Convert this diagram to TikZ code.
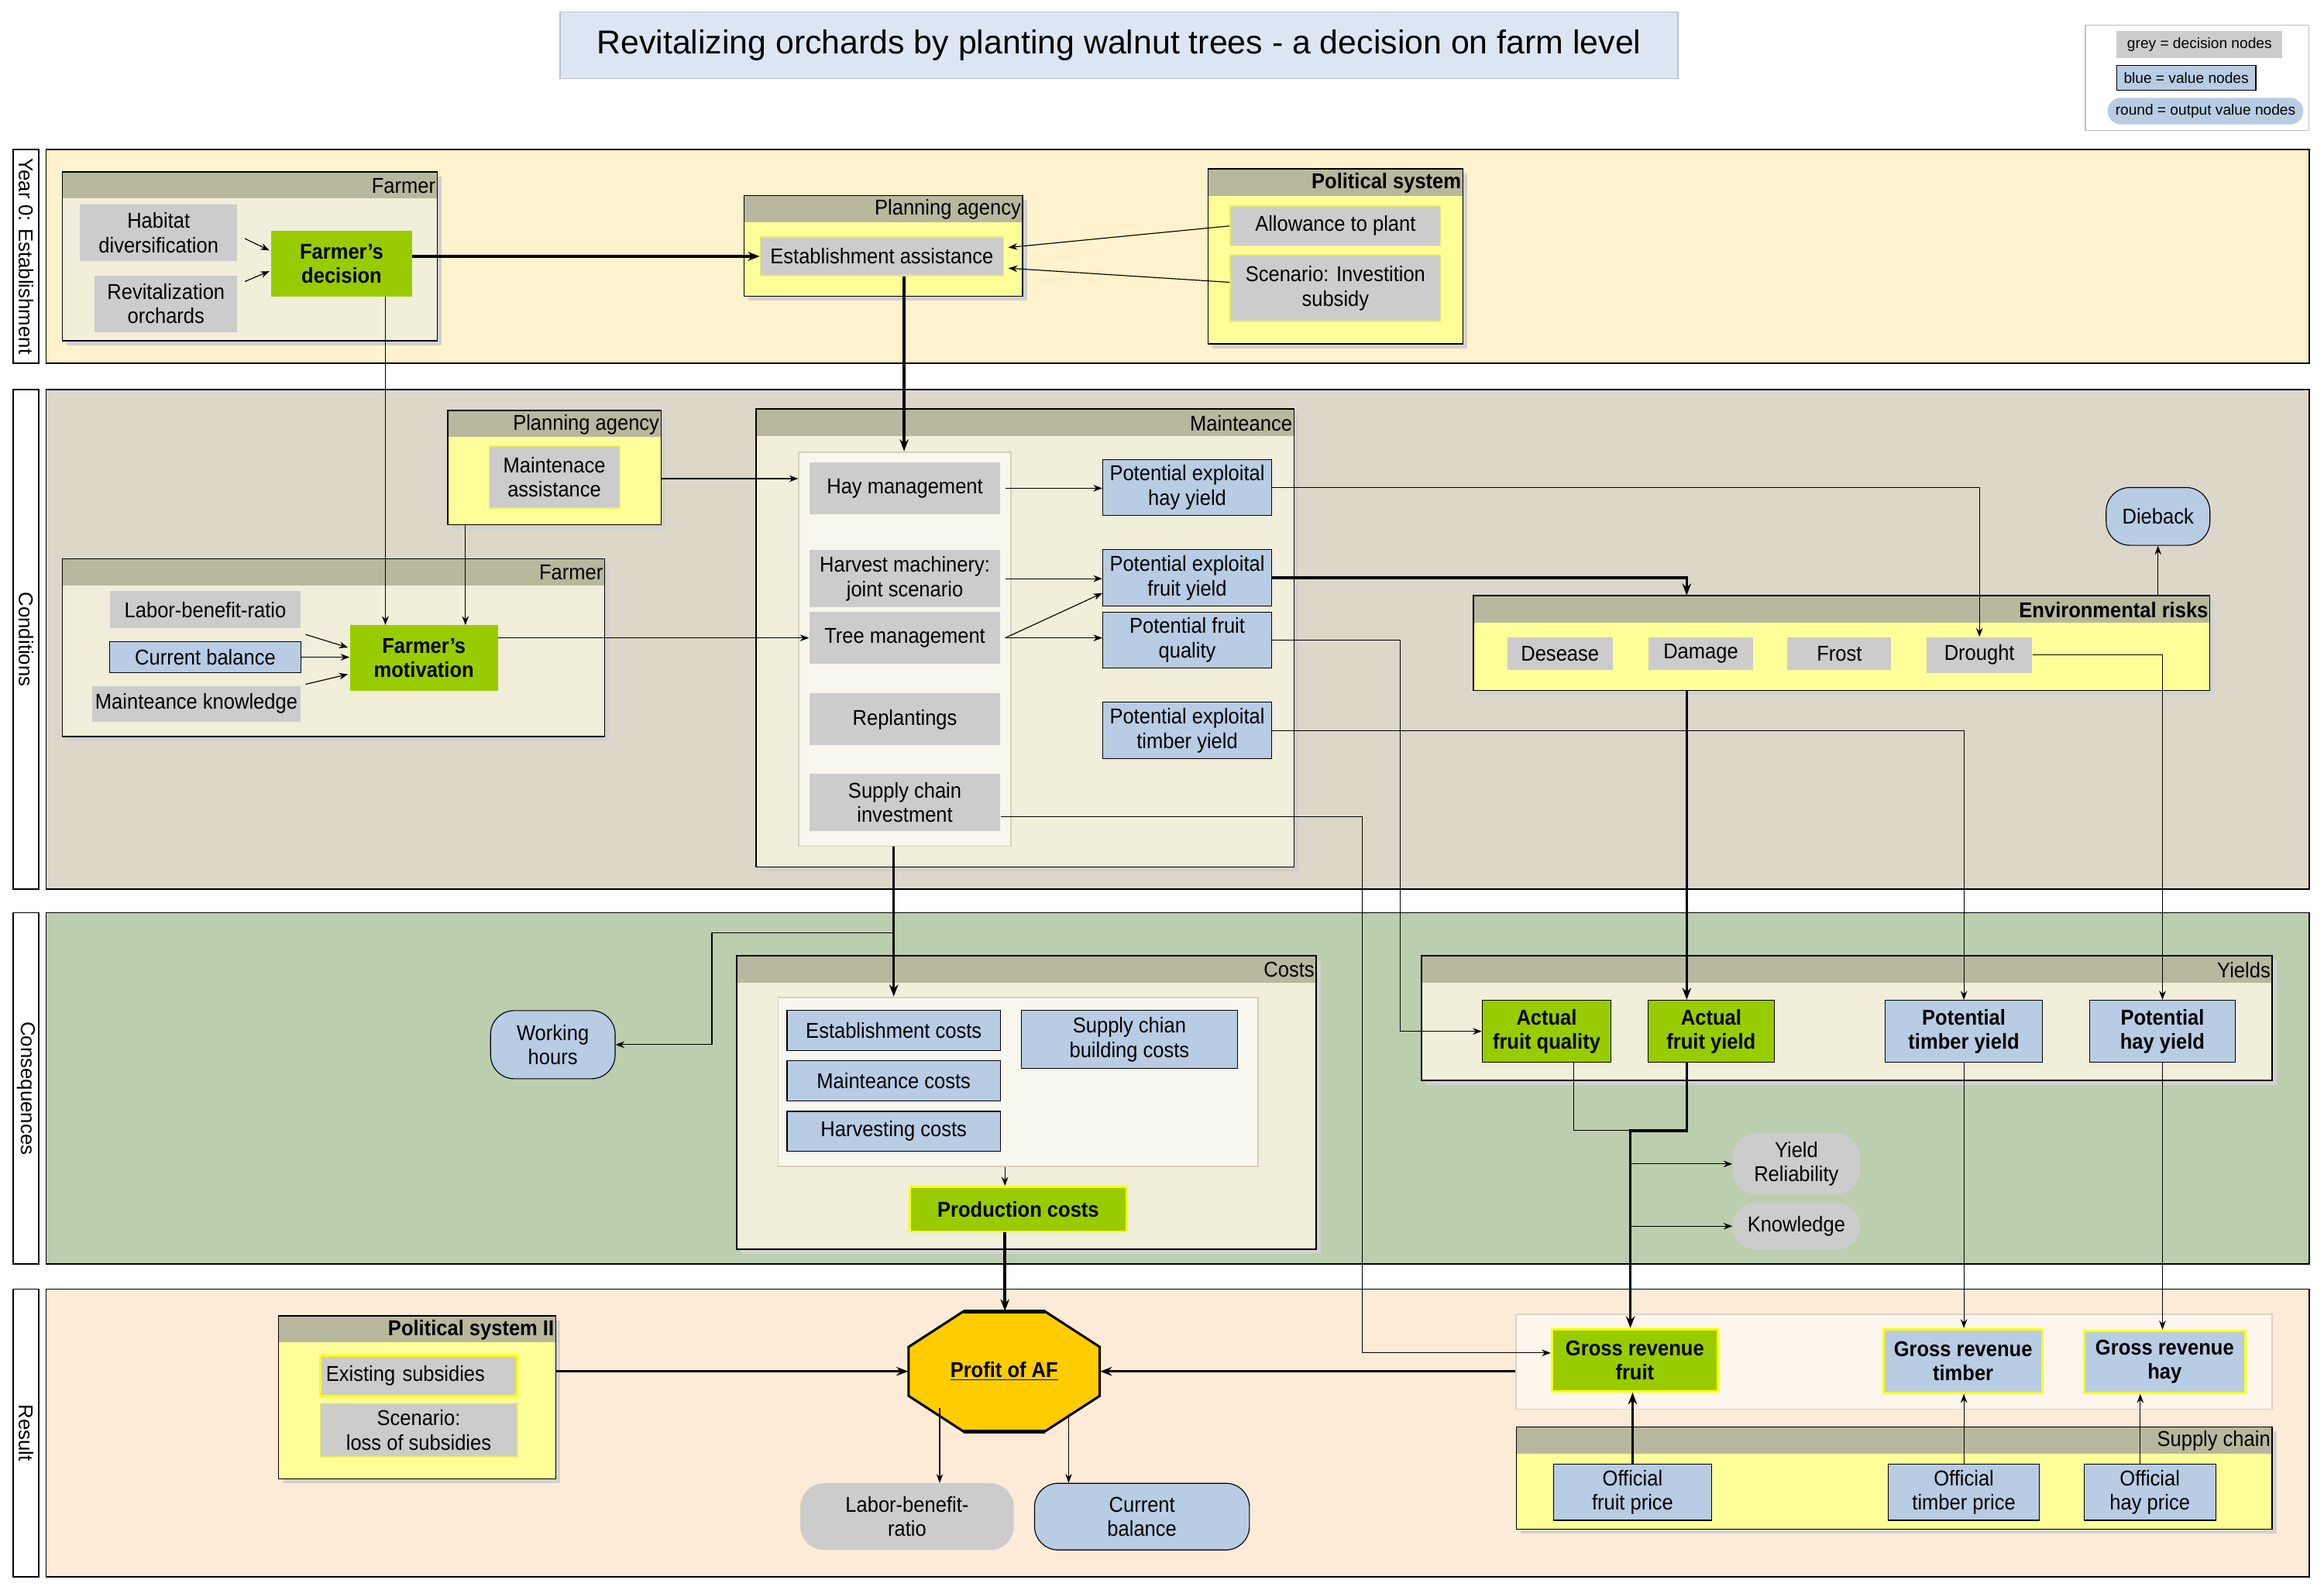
\documentclass[tikz,border=0pt]{standalone}
\usepackage{fontspec}
\setmainfont{Liberation Sans}[FakeStretch=0.92]
\newfontfamily\widefont{Liberation Sans}
\usetikzlibrary{arrows.meta}
\definecolor{clane0}{HTML}{FFF2CC}
\definecolor{clane1}{HTML}{DDD7C9}
\definecolor{clane2}{HTML}{BBCEAD}
\definecolor{clane3}{HTML}{FDEBD7}
\definecolor{chdr}{HTML}{B8B89E}
\definecolor{ccream}{HTML}{F1EEDA}
\definecolor{cyel}{HTML}{FFFF99}
\definecolor{cinner}{HTML}{F8F7ED}
\definecolor{cinnerb}{HTML}{D6D1BC}
\definecolor{cigross}{HTML}{FDF6EC}
\definecolor{cigrossb}{HTML}{D9D3C8}
\definecolor{cgrey}{HTML}{CCCCCC}
\definecolor{cblue}{HTML}{B8CCE4}
\definecolor{cgreen}{HTML}{99CC00}
\definecolor{cgold}{HTML}{FFCC00}
\definecolor{ctitle}{HTML}{DCE6F2}
\definecolor{ctitleb}{HTML}{B9C4D6}
\definecolor{cyb}{HTML}{EEEE66}
\definecolor{cybright}{HTML}{FFFF00}
\newcommand{\mybox}[7]{\node[#1, minimum width={(#5)-(#3)}, minimum height={(#6)-(#4)}] (#2) at ({((#3)+(#5))/2},{((#4)+(#6))/2}) {#7};}
\newcommand{\mypanel}[8]{%
 \fill[black!18] ({#2+3},{#3+3}) rectangle ({#4+3},{#5+3});
 \mybox{inner sep=0, fill=#6}{#1}{#2}{#3}{#4}{#5}{}
 \fill[chdr] ({#2},{#3}) rectangle ({#4},{#3+18});
 \draw[line width=0.8pt] ({#2},{#3}) rectangle ({#4},{#5});
 \node[anchor=east, inner sep=1pt, font=#8] (#1-t) at ({#4},{#3+9.5}) {#7};
}
\tikzset{
 gnode/.style={fill=cgrey, inner sep=0, align=center},
 gnodey/.style={gnode, draw=cyb, line width=0.8pt},
 bnode/.style={fill=cblue, draw=black, line width=0.6pt, inner sep=0, align=center},
 grnode/.style={fill=cgreen, draw=black, line width=0.6pt, inner sep=0, align=center, font=\bfseries},
 rnode/.style={rounded corners=16pt, inner sep=0, align=center},
 lanelab/.style={fill=white, draw=black, line width=0.8pt, inner sep=0},
 lanebody/.style={draw=black, line width=0.8pt, inner sep=0},
 ipanel/.style={fill=cinner, draw=cinnerb, line width=1pt, inner sep=0},
 lanetext/.style={rotate=-90, font=\widefont\fontsize{13.5}{16}\selectfont, inner sep=0},
 arr/.style={-{Stealth[length=6pt,width=4.5pt]}, line width=0.6pt},
 tarr/.style={-{Stealth[length=8pt,width=6pt]}, line width=1.8pt},
 ln/.style={line width=0.6pt},
}
\begin{document}
\fontsize{14.5}{16.5}\selectfont
\begin{tikzpicture}[x=1pt,y=-1pt]
\useasboundingbox (0,0) rectangle (1568,1073);
% title
\mybox{fill=ctitle, draw=ctitleb, line width=0.8pt, font=\widefont\fontsize{22.4}{26}\selectfont}{title}{378}{8}{1132}{53}{Revitalizing orchards by planting walnut trees - a decision on farm level}
% legend
\mybox{fill=white, draw=black!25, line width=0.6pt, inner sep=0}{legend}{1407}{17}{1558}{88}{}
\mybox{fill=cgrey, inner sep=0, font=\widefont\fontsize{10}{12}\selectfont}{leggrey}{1428}{21}{1540}{39}{grey = decision nodes}
\mybox{fill=cblue, draw=black, line width=0.6pt, inner sep=0, font=\widefont\fontsize{10}{12}\selectfont}{legblue}{1428}{44}{1522}{61}{blue = value nodes}
\mybox{fill=cblue, rounded corners=9pt, inner sep=0, font=\widefont\fontsize{10}{12}\selectfont}{leground}{1422}{66}{1554}{84}{round = output value nodes}
% lanes
\mybox{lanebody, fill=clane0}{lane0}{31}{101}{1558}{245}{}
\mybox{lanelab}{lab0}{9}{101}{26}{245}{}
\node[lanetext] (lab0t) at (lab0) {Year 0: Establishment};
\mybox{lanebody, fill=clane1}{lane1}{31}{263}{1558}{600}{}
\mybox{lanelab}{lab1}{9}{263}{26}{600}{}
\node[lanetext] (lab1t) at (lab1) {Conditions};
\mybox{lanebody, fill=clane2}{lane2}{31}{616}{1558}{853}{}
\mybox{lanelab}{lab2}{9}{616}{26}{853}{}
\node[lanetext] (lab2t) at (lab2) {Consequences};
\mybox{lanebody, fill=clane3}{lane3}{31}{870}{1558}{1064}{}
\mybox{lanelab}{lab3}{9}{870}{26}{1064}{}
\node[lanetext] (lab3t) at (lab3) {Result};
% panels
\mypanel{pfarm0}{42}{116}{295}{230}{ccream}{Farmer}{\mdseries}
\mypanel{pplan0}{502}{132}{690}{200}{cyel}{Planning agency}{\mdseries}
\mypanel{ppol}{815}{114}{987}{232}{cyel}{Political system}{\bfseries}
\mypanel{pplan1}{302}{277}{446}{354}{cyel}{Planning agency}{\mdseries}
\mypanel{pfarm1}{42}{377}{408}{497}{ccream}{Farmer}{\mdseries}
\mypanel{pmaint}{510}{276}{873}{585}{ccream}{Mainteance}{\mdseries}
\mypanel{penv}{994}{402}{1491}{466}{cyel}{Environmental risks}{\bfseries}
\mypanel{pcosts}{497}{645}{888}{843}{ccream}{Costs}{\mdseries}
\mypanel{pyields}{959}{645}{1533}{729}{ccream}{Yields}{\mdseries}
\mypanel{ppol2}{188}{888}{375}{998}{cyel}{Political system II}{\bfseries}
\mypanel{psupply}{1023}{963}{1533}{1032}{cyel}{Supply chain}{\mdseries}
\mybox{ipanel}{imaint}{539}{305}{682}{571}{}
\mybox{ipanel}{icosts}{525}{673}{849}{787}{}
\mybox{fill=cigross, draw=cigrossb, line width=1pt, inner sep=0}{igross}{1023}{887}{1533}{951}{}
% year 0 nodes
\mybox{gnode}{habitat}{54}{138}{160}{176}{Habitat\\diversification}
\mybox{gnode}{revital}{64}{186}{160}{224}{Revitalization\\orchards}
\mybox{gnode, fill=cgreen, font=\bfseries}{fdec}{183}{156}{278}{200}{Farmer's\\decision}
\mybox{gnodey}{estab}{513}{160}{677}{186}{Establishment assistance}
\mybox{gnodey}{allow}{830}{139}{972}{166}{Allowance to plant}
\mybox{gnodey}{scen}{830}{172}{972}{217}{Scenario: Investition\\subsidy}
% conditions nodes
\mybox{gnodey}{maintass}{330}{301}{418}{343}{Maintenace\\assistance}
\mybox{gnode}{labor}{74}{399}{203}{424}{Labor-benefit-ratio}
\mybox{bnode}{curbal}{74}{433}{203}{454}{Current balance}
\mybox{gnode}{mknow}{62}{463}{203}{487}{Mainteance knowledge}
\mybox{gnode, fill=cgreen, font=\bfseries}{fmot}{236}{422}{336}{466}{Farmer's\\motivation}
\mybox{gnode}{haym}{546}{312}{675}{347}{Hay management}
\mybox{gnode}{harvm}{546}{371}{675}{410}{Harvest machinery:\\joint scenario}
\mybox{gnode}{treem}{546}{413}{675}{448}{Tree management}
\mybox{gnode}{replant}{546}{468}{675}{503}{Replantings}
\mybox{gnode}{supinv}{546}{522}{675}{561}{Supply chain\\investment}
\mybox{bnode}{pehay}{744}{310}{858}{348}{Potential exploital\\hay yield}
\mybox{bnode}{pefruit}{744}{371}{858}{409}{Potential exploital\\fruit yield}
\mybox{bnode}{pfq}{744}{413}{858}{451}{Potential fruit\\quality}
\mybox{bnode}{petimber}{744}{474}{858}{512}{Potential exploital\\timber yield}
\mybox{gnode}{desease}{1017}{430}{1088}{452}{Desease}
\mybox{gnode}{damage}{1112}{430}{1183}{452}{Damage}
\mybox{gnode}{frost}{1206}{430}{1276}{452}{Frost}
\mybox{gnode}{drought}{1300}{430}{1371}{454}{Drought}
\mybox{rnode, fill=cblue, draw=black, line width=0.6pt}{dieback}{1421}{329}{1491}{368}{Dieback}
% consequences nodes
\mybox{rnode, fill=cblue, draw=black, line width=0.6pt}{workh}{331}{682}{415}{728}{Working\\hours}
\mybox{bnode}{estcost}{531}{682}{675}{709}{Establishment costs}
\mybox{bnode}{maintcost}{531}{716}{675}{743}{Mainteance costs}
\mybox{bnode}{harvcost}{531}{750}{675}{777}{Harvesting costs}
\mybox{bnode}{supcost}{689}{682}{835}{721}{Supply chian\\building costs}
\mybox{grnode, draw=cybright, line width=1.5pt}{prodcost}{614}{801}{760}{831}{Production costs}
\mybox{grnode}{afq}{1000}{675}{1087}{717}{Actual\\fruit quality}
\mybox{grnode}{afy}{1112}{675}{1197}{717}{Actual\\fruit yield}
\mybox{bnode, font=\bfseries}{ptimber}{1272}{675}{1378}{717}{Potential\\timber yield}
\mybox{bnode, font=\bfseries}{phay}{1410}{675}{1508}{717}{Potential\\hay yield}
\mybox{rnode, fill=cgrey}{yrel}{1169}{765}{1255}{806}{Yield\\Reliability}
\mybox{rnode, rounded corners=15pt, fill=cgrey}{know}{1169}{812}{1255}{843}{Knowledge}
% result nodes
\mybox{gnode, draw=cybright, line width=1.5pt, text width=125, align=left}{exsub}{216}{915}{349}{942}{Existing subsidies}
\mybox{gnodey}{scloss}{216}{947}{349}{983}{Scenario:\\loss of subsidies}
\filldraw[fill=cgold, draw=black, line width=1.6pt] (650,885) -- (705,885) -- (742,909) -- (742,942) -- (705,966) -- (650,966) -- (613,942) -- (613,909) -- cycle;
\draw[line width=2.6pt] (650,885) -- (705,885) (650,966) -- (705,966);
\node[minimum width=129, minimum height=81, inner sep=0, font=\bfseries] (profit) at (677.5,925.5) {\underline{Profit of AF}};
\mybox{rnode, fill=cgrey}{lbr}{540}{1001}{684}{1046}{Labor-benefit-\\ratio}
\mybox{rnode, fill=cblue, draw=black, line width=0.6pt}{curbal2}{698}{1001}{843}{1046}{Current\\balance}
\mybox{grnode, draw=cybright, line width=1.5pt}{grfruit}{1047}{897}{1159}{939}{Gross revenue\\fruit}
\mybox{bnode, draw=cybright, line width=1.5pt, font=\bfseries}{grtimber}{1271}{897}{1378}{940}{Gross revenue\\timber}
\mybox{bnode, draw=cybright, line width=1.5pt, font=\bfseries}{grhay}{1406}{898}{1515}{940}{Gross revenue\\hay}
\mybox{bnode}{ofruit}{1048}{988}{1155}{1026}{Official\\fruit price}
\mybox{bnode}{otimber}{1274}{988}{1376}{1026}{Official\\timber price}
\mybox{bnode}{ohay}{1406}{988}{1495}{1026}{Official\\hay price}
% connectors
\draw[arr] ([shift={(5,4)}]habitat.east) -- ([shift={(-1,-9)}]fdec.west);
\draw[arr] ([shift={(5,-15)}]revital.east) -- ([shift={(-1,5)}]fdec.west);
\draw[tarr] (fdec.east |- estab.west) -- (estab.west);
\draw[arr] (allow.west) -- ([shift={(3,-6)}]estab.east);
\draw[arr] ([shift={(0,-4)}]scen.west) -- ([shift={(3,8)}]estab.east);
\draw[arr] ([xshift=29.5]fdec.south) -- ([xshift=29.5]fdec.south |- fmot.north);
\draw[tarr] ([xshift=15]estab.south) -- ([xshift=15]estab.south |- imaint.north);
\draw[arr] ([yshift=-7.5]pplan1.east) -- ([yshift=-7.5]pplan1.east -| imaint.west);
\draw[arr] ([xshift=-60]pplan1.south) -- ([xshift=-60]pplan1.south |- fmot.north);
\draw[arr] ([shift={(3,4)}]labor.south east) -- ([shift={(-1,-7)}]fmot.west);
\draw[arr] (curbal.east) -- (curbal.east -| fmot.west);
\draw[arr] ([shift={(3,-1)}]mknow.north east) -- ([shift={(-1,11)}]fmot.west);
\draw[arr] (fmot.east |- treem.west) -- (treem.west);
\draw[arr] ([xshift=3]haym.east) -- (haym.east -| pehay.west);
\draw[arr] ([xshift=3]harvm.east) -- (harvm.east -| pefruit.west);
\draw[arr] ([xshift=3]treem.east) -- ([shift={(0,-9)}]pefruit.south west);
\draw[arr] ([xshift=3]treem.east) -- (treem.east -| pfq.west);
\draw[arr] (pehay.east) -| (drought.north);
\draw[tarr] (pefruit.east) -| ([xshift=-9.5]damage.north |- penv.north);
\draw[tarr] ([xshift=-9.5]damage.north |- penv.south) -- ([xshift=-9.5]damage.north |- afy.north);
\draw[arr] (dieback.south |- penv.north) -- (dieback.south);
\draw[arr] (pfq.east) -| ([xshift=-55]afq.west) -- (afq.west);
\draw[arr] (petimber.east) -| (ptimber.north);
\draw[arr] (drought.east) -| (phay.north);
\draw[arr] ([yshift=-9.5]supinv.east) -| ([shift={(-127,-5)}]grfruit.west) -- ([yshift=5]grfruit.west);
\draw[tarr] ([xshift=-7.5]imaint.south) -- ([xshift=-7.5]imaint.south |- icosts.north);
\draw[arr] ([shift={(-7.5,58)}]imaint.south) -| ([xshift=65]workh.east) -- (workh.east);
\draw[arr] ([xshift=-9]icosts.south) -- ([xshift=-9]prodcost.north);
\draw[tarr] ([xshift=-9]prodcost.south) -- ([xshift=-9]prodcost.south |- profit.north);
\coordinate (jn) at (1100,763);
\draw[ln] ([xshift=18.5]afq.south) |- (jn);
\draw[tarr] ([xshift=-16.5]afy.south) |- (jn) -- (jn |- grfruit.north);
\draw[arr] (jn |- yrel.west) -- (yrel.west);
\draw[arr] (jn |- know.west) -- (know.west);
\draw[arr] (ptimber.south) -- (ptimber.south |- grtimber.north);
\draw[arr] (phay.south) -- (phay.south |- grhay.north);
\draw[tarr] (ppol2.east |- profit.west) -- (profit.west);
\draw[tarr] (igross.west |- profit.east) -- (profit.east);
\draw[arr] ([shift={(-43.5,-16)}]profit.south) -- ([xshift=22]lbr.north);
\draw[arr] ([shift={(43.5,-12)}]profit.south) -- ([xshift=-49.5]curbal2.north);
\draw[tarr] (ofruit.north) -- (ofruit.north |- grfruit.south);
\draw[arr] (otimber.north) -- (otimber.north |- grtimber.south);
\draw[arr] ([xshift=-6.5]ohay.north) -- ([xshift=-6.5]ohay.north |- grhay.south);
\end{tikzpicture}
\end{document}
